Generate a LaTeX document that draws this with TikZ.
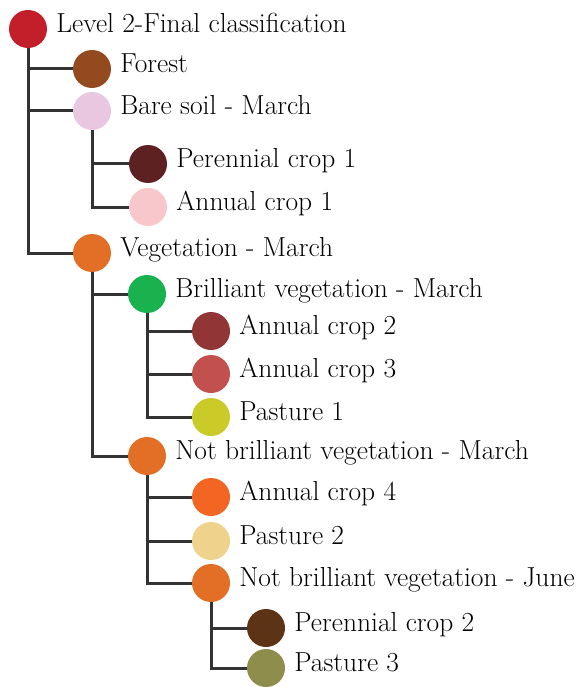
\documentclass[tikz,border=0pt]{standalone}
\usepackage{fontspec}
\usetikzlibrary{backgrounds}
\definecolor{cRoot}{HTML}{C21F2A}
\definecolor{cForest}{HTML}{934A1F}
\definecolor{cBare}{HTML}{E9C7E0}
\definecolor{cPer1}{HTML}{5E2121}
\definecolor{cAnn1}{HTML}{F8C7CB}
\definecolor{cOrange}{HTML}{E36F26}
\definecolor{cGreen}{HTML}{19B24E}
\definecolor{cAnn2}{HTML}{923536}
\definecolor{cAnn3}{HTML}{C2504E}
\definecolor{cPas1}{HTML}{CACA28}
\definecolor{cAnn4}{HTML}{F26522}
\definecolor{cPas2}{HTML}{EFD38C}
\definecolor{cPer2}{HTML}{5D3316}
\definecolor{cPas3}{HTML}{8F8D4B}
\definecolor{cLine}{HTML}{333333}
\tikzset{
  dot/.style={circle, fill=#1, draw=none, inner sep=0pt, minimum size=38pt},
  txt/.style={label={[anchor=west, xshift=9pt, inner sep=0pt, text height=0.68em, text depth=0pt, font=\fontsize{27.5}{32}\selectfont]east:#1}},
  link/.style={draw=cLine, line width=3pt}
}
\begin{document}
\begin{tikzpicture}[x=1pt, y=-1pt]
\useasboundingbox (0,0) rectangle (576,687);
\node[dot=cRoot, txt={Level 2-Final classification}] (root) at (28,29) {};
\node[dot=cForest, txt={Forest}] (forest) at (92,69) {};
\node[dot=cBare, txt={Bare soil - March}] (bare) at (92,111) {};
\node[dot=cPer1, txt={Perennial crop 1}] (per1) at (148,164) {};
\node[dot=cAnn1, txt={Annual crop 1}] (ann1) at (148,207) {};
\node[dot=cOrange, txt={Vegetation - March}] (veg) at (92,253) {};
\node[dot=cGreen, txt={Brilliant vegetation - March}] (bril) at (147,294) {};
\node[dot=cAnn2, txt={Annual crop 2}] (ann2) at (211,331) {};
\node[dot=cAnn3, txt={Annual crop 3}] (ann3) at (211,374) {};
\node[dot=cPas1, txt={Pasture 1}] (pas1) at (211,417) {};
\node[dot=cOrange, txt={Not brilliant vegetation - March}] (nbm) at (147,456) {};
\node[dot=cAnn4, txt={Annual crop 4}] (ann4) at (211,497) {};
\node[dot=cPas2, txt={Pasture 2}] (pas2) at (211,541) {};
\node[dot=cOrange, txt={Not brilliant vegetation - June}] (nbj) at (211,583) {};
\node[dot=cPer2, txt={Perennial crop 2}] (per2) at (266,628) {};
\node[dot=cPas3, txt={Pasture 3}] (pas3) at (266,668) {};
\begin{scope}[on background layer]
\draw[link] (root.center) |- (forest.center);
\draw[link] (root.center) |- (bare.center);
\draw[link] (root.center) |- (veg.center);
\draw[link] (bare.center) |- (per1.center);
\draw[link] (bare.center) |- (ann1.center);
\draw[link] (veg.center) |- (bril.center);
\draw[link] (veg.center) |- (nbm.center);
\draw[link] (bril.center) |- (ann2.center);
\draw[link] (bril.center) |- (ann3.center);
\draw[link] (bril.center) |- (pas1.center);
\draw[link] (nbm.center) |- (ann4.center);
\draw[link] (nbm.center) |- (pas2.center);
\draw[link] (nbm.center) |- (nbj.center);
\draw[link] (nbj.center) |- (per2.center);
\draw[link] (nbj.center) |- (pas3.center);
\end{scope}
\end{tikzpicture}
\end{document}
